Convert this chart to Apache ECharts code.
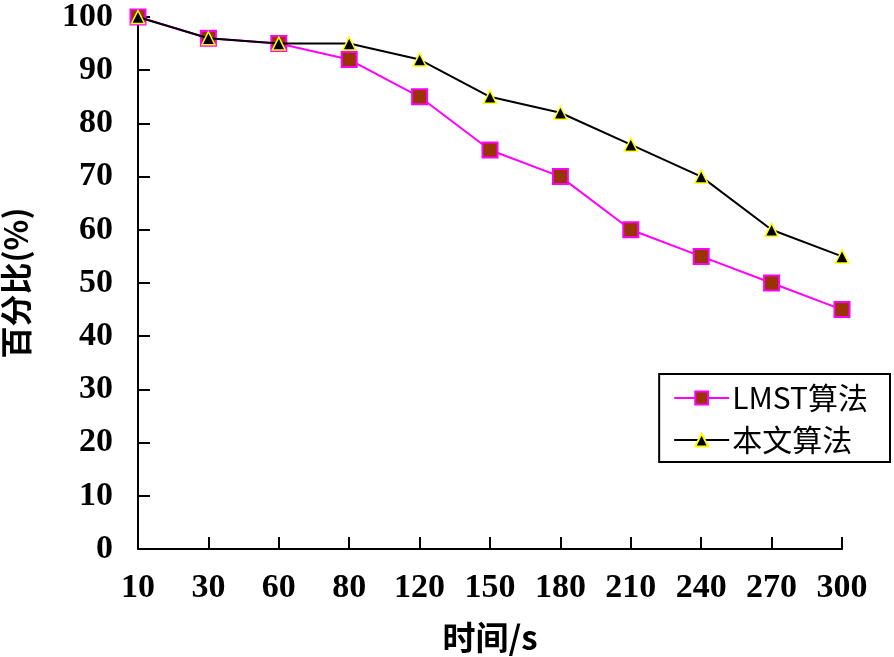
<!DOCTYPE html>
<html>
<head>
<meta charset="utf-8">
<script src="https://cdn.jsdelivr.net/npm/echarts@6/dist/echarts.min.js"></script>
<style>
  html, body { margin: 0; padding: 0; background: #fff; }
  #chart { width: 894px; height: 657px; }
</style>
</head>
<body>
<div id="chart"></div>
<script>
var times = ["10", "30", "60", "80", "120", "150", "180", "210", "240", "270", "300"];
var lmst = [100, 96, 95, 92, 85, 75, 70, 60, 55, 50, 45];
var ours = [100, 96, 95, 95, 92, 85, 82, 76, 70, 60, 55];

var numFont = { fontFamily: "Liberation Serif", fontWeight: "bold", fontSize: 34, color: "#000" };
var cjkFont = "Noto Sans CJK SC";

var myChart = echarts.init(document.getElementById("chart"));
var option = {
  animation: false,
  backgroundColor: "#fff",
  grid: { left: 138, right: 52, top: 17, bottom: 108, outerBoundsMode: "none", containLabel: false },
  legend: {
    orient: "vertical",
    right: 4,
    top: 374,
    padding: [9, 22, 7, 14],
    itemGap: 12,
    itemWidth: 55,
    itemHeight: 16,
    borderColor: "#000",
    borderWidth: 2,
    backgroundColor: "#fff",
    textStyle: { fontFamily: cjkFont, fontSize: 30, color: "#000", padding: [0, 0, 0, -2] },
    data: ["LMST算法", "本文算法"]
  },
  xAxis: {
    type: "category",
    data: times,
    boundaryGap: false,
    name: "时间/s",
    nameLocation: "middle",
    nameGap: 72,
    nameTextStyle: { fontFamily: cjkFont, fontWeight: "bold", fontSize: 33, color: "#000" },
    axisLine: { lineStyle: { color: "#000", width: 2 } },
    axisTick: { inside: true, length: 12, lineStyle: { color: "#000", width: 2 } },
    axisLabel: Object.assign({ margin: 22, interval: 0 }, numFont),
    splitLine: { show: false }
  },
  yAxis: {
    type: "value",
    min: 0,
    max: 100,
    interval: 10,
    name: "百分比(%)",
    nameLocation: "middle",
    nameGap: 106,
    nameTextStyle: { fontFamily: cjkFont, fontWeight: "bold", fontSize: 32, color: "#000" },
    axisLine: { show: true, lineStyle: { color: "#000", width: 2 } },
    axisTick: { show: true, inside: true, length: 12, lineStyle: { color: "#000", width: 2 } },
    axisLabel: Object.assign({ margin: 25 }, numFont),
    splitLine: { show: false }
  },
  series: [
    {
      name: "LMST算法",
      type: "line",
      data: lmst,
      symbol: "rect",
      symbolSize: 15,
      lineStyle: { color: "#ff00ff", width: 2 },
      itemStyle: { color: "#993300", borderColor: "#ff00ff", borderWidth: 2 },
      z: 2
    },
    {
      name: "本文算法",
      type: "line",
      data: ours,
      symbol: "triangle",
      symbolSize: 13,
      lineStyle: { color: "#000", width: 2 },
      itemStyle: { color: "#000", borderColor: "#ffff00", borderWidth: 1.5 },
      z: 3
    }
  ]
};
myChart.setOption(option);
</script>
</body>
</html>
